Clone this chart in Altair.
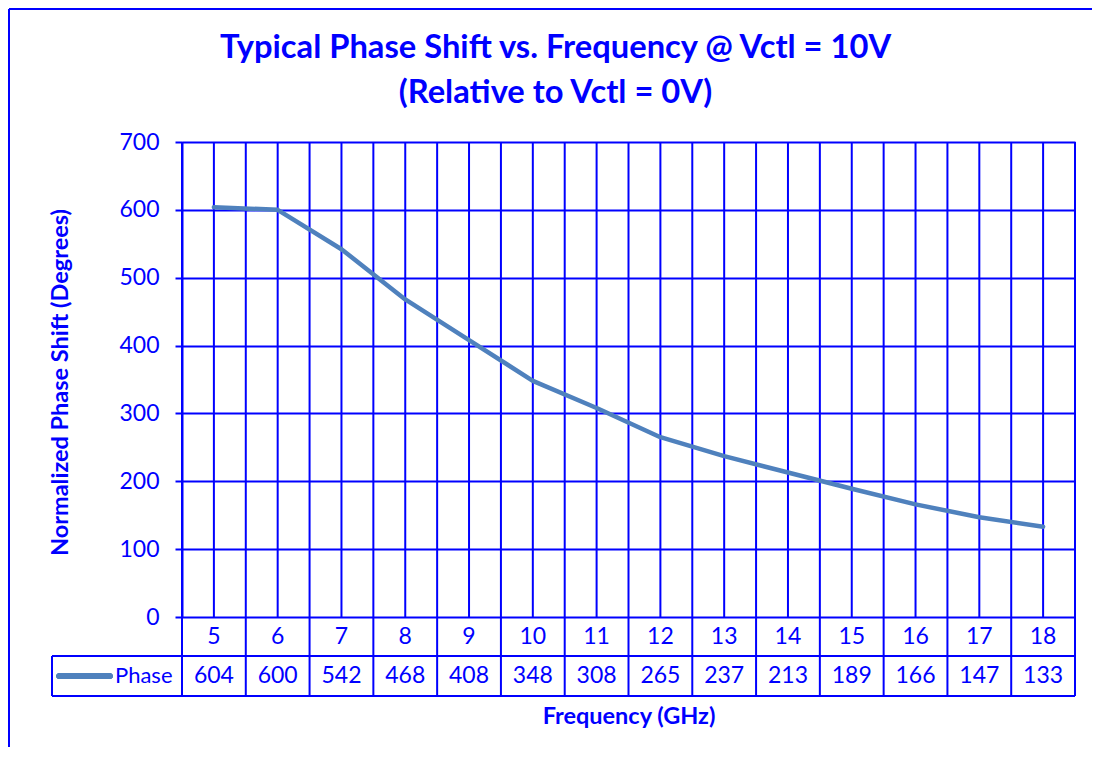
import altair as alt
import pandas as pd

# ---- data ----
freqs = [5, 6, 7, 8, 9, 10, 11, 12, 13, 14, 15, 16, 17, 18]
phase = [604, 600, 542, 468, 408, 348, 308, 265, 237, 213, 189, 166, 147, 133]
y_ticks = [0, 100, 200, 300, 400, 500, 600, 700]
series_name = "Phase"
title_lines = ["Typical Phase Shift vs. Frequency @ Vctl = 10V", "(Relative to Vctl = 0V)"]
x_title = "Frequency (GHz)"
y_title = "Normalized Phase Shift (Degrees)"

BLUE = "#0000FF"
LINE = "#4F81BD"
FONT = "Lato"

W, H = 893, 475
PAD_L, PAD_T = 174, 134

df = pd.DataFrame({"freq": freqs, "phase": phase})
bounds = pd.DataFrame({"pos": [f - 0.5 for f in freqs] + [freqs[-1] + 0.5]})
centers = pd.DataFrame({"pos": [f for f in freqs]})

xscale = alt.Scale(domain=[freqs[0] - 0.5, freqs[-1] + 0.5], nice=False, zero=False)
yscale = alt.Scale(domain=[y_ticks[0], y_ticks[-1]], nice=False)

base = alt.Chart(df)

line = base.mark_line(color=LINE, strokeWidth=4.5, strokeCap="round", strokeJoin="round").encode(
    x=alt.X("freq:Q", scale=xscale,
            axis=alt.Axis(labels=False, ticks=False, domain=False, grid=False,
                          title=x_title, titleFontSize=23.5, titleFont=FONT,
                          titleFontWeight="bold", titleColor=BLUE,
                          titleY=99, titleBaseline="middle")),
    y=alt.Y("phase:Q", scale=yscale,
            axis=alt.Axis(values=y_ticks, grid=True, gridColor=BLUE, gridWidth=2,
                          domain=True, domainColor=BLUE, domainWidth=2,
                          ticks=True, tickColor=BLUE, tickWidth=2, tickSize=7,
                          labelFontSize=23, labelFont=FONT, labelColor=BLUE, labelPadding=16,
                          title=y_title, titleFontSize=23.5, titleFont=FONT,
                          titleFontWeight="bold", titleColor=BLUE,
                          titleX=-110, titleY=240)),
)

vgrid_c = alt.Chart(centers).mark_rule(color=BLUE, strokeWidth=2).encode(
    x=alt.X("pos:Q", scale=xscale), y=alt.value(0), y2=alt.value(H)
)
vgrid_b = alt.Chart(bounds).mark_rule(color=BLUE, strokeWidth=2).encode(
    x=alt.X("pos:Q", scale=xscale), y=alt.value(0), y2=alt.value(H + 79)
)

# table horizontal lines and legend cell
hl1 = alt.Chart(df).mark_rule(color=BLUE, strokeWidth=2).encode(
    x=alt.value(-130), x2=alt.value(W), y=alt.value(H + 39)
)
hl2 = alt.Chart(df).mark_rule(color=BLUE, strokeWidth=2).encode(
    x=alt.value(-130), x2=alt.value(W), y=alt.value(H + 79)
)
vl = alt.Chart(df).mark_rule(color=BLUE, strokeWidth=2).encode(
    x=alt.value(-130), y=alt.value(H + 39), y2=alt.value(H + 79)
)

cat_text = base.mark_text(color=BLUE, fontSize=23, font=FONT, baseline="middle").encode(
    x=alt.X("freq:Q", scale=xscale), y=alt.value(H + 20), text="freq:N"
)
val_text = base.mark_text(color=BLUE, fontSize=23, font=FONT, baseline="middle").encode(
    x=alt.X("freq:Q", scale=xscale), y=alt.value(H + 59), text="phase:N"
)

leg_line = alt.Chart(df).mark_rule(color=LINE, strokeWidth=5, strokeCap="round").encode(
    x=alt.value(-123), x2=alt.value(-72), y=alt.value(H + 59)
)
leg_text = alt.Chart(pd.DataFrame({"name": [series_name]})).mark_text(
    color=BLUE, fontSize=22, font=FONT, align="left", baseline="middle"
).encode(x=alt.value(-67), y=alt.value(H + 59), text="name:N")

# chart area border (left and top)
bl = alt.Chart(df).mark_rule(color=BLUE, strokeWidth=2).encode(
    x=alt.value(-173), y=alt.value(-133), y2=alt.value(H + 200)
)
bt = alt.Chart(df).mark_rule(color=BLUE, strokeWidth=2).encode(
    x=alt.value(-173), x2=alt.value(W + 40), y=alt.value(-133)
)

chart = alt.layer(
    vgrid_c, vgrid_b, hl1, hl2, vl, line, cat_text, val_text, leg_line, leg_text, bl, bt
).properties(
    width=W, height=H,
    title=alt.TitleParams(title_lines, fontSize=32.7, font=FONT, fontWeight="bold",
                          color=BLUE, anchor="middle", frame="group", dx=-73, dy=128,
                          lineHeight=45, offset=26),
    autosize=alt.AutoSizeParams(type="none"),
    padding={"left": PAD_L, "top": PAD_T, "right": 17, "bottom": 130},
).configure_view(stroke=None).configure(background="white")

chart.save("out.html", embed_options={"renderer": "svg", "actions": False})
